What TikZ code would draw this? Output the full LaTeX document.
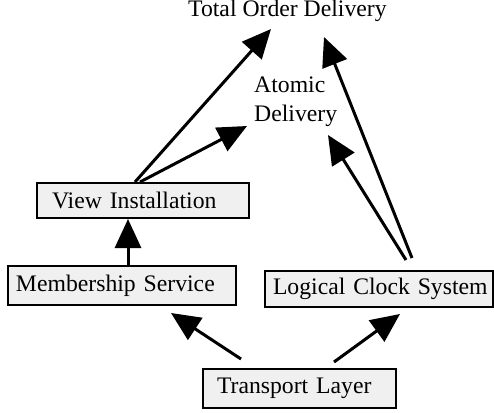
\documentclass[tikz,border=0pt]{standalone}
\usepackage{fontspec}
\setmainfont{Liberation Serif}
\usetikzlibrary{arrows.meta,calc}
\definecolor{boxfill}{RGB}{240,240,240}
\begin{document}
\begin{tikzpicture}[x=1pt,y=-1pt,
  every node/.style={font=\fontsize{23.7}{29}\selectfont},
  layerbox/.style={draw=black,line width=2pt,fill=boxfill,inner ysep=0pt,align=left},
  label/.style={inner sep=0pt},
  flow/.style={line width=3pt,-{Triangle[length=29pt,width=26pt]}}]
\useasboundingbox (0,0) rectangle (494,412);

% labels of the delivery guarantees
\node[label,anchor=base west] (tod) at (188,17) {Total Order Delivery};
\node[label,anchor=base west,align=left] (atom) at (254,121) {Atomic\\Delivery};

% layers of the stack
\node[layerbox,minimum width=212pt,minimum height=35pt,inner xsep=15pt,text width=182pt] (vi) at (143,200.5) {\mbox{View Installation}};
\node[layerbox,minimum width=228pt,minimum height=39pt,inner xsep=8pt,text width=212pt] (mem) at (122,285.5) {\mbox{Membership Service}};
\node[layerbox,minimum width=228pt,minimum height=36pt,inner xsep=8pt,text width=212pt] (lcs) at (379,289) {\mbox{Logical Clock System}};
\node[layerbox,minimum width=193pt,minimum height=39pt,inner xsep=14pt,text width=165pt] (tl) at (299.5,388.5) {\mbox{Transport Layer}};

% arrow ends near the labels
\coordinate (todL) at (271,29);
\coordinate (todR) at (324,37);
\coordinate (atomL) at (247,126);
\coordinate (atomR) at (328,135);

% dependencies
\draw[flow] ($(vi.north)+(-8,0)$) -- (todL);
\draw[flow] ($(vi.north)+(-3,0)$) -- (atomL);
\draw[flow] ($(lcs.north)+(33,-12)$) -- (todR);
\draw[flow] ($(lcs.north)+(27,-10)$) -- (atomR);
\draw[flow] ($(mem.north)+(6,0)$) -- ($(vi.south)+(-15,0)$);
\draw[flow] ($(tl.north)+(-58.5,-9)$) -- ($(mem.south)+(49,7)$);
\draw[flow] ($(tl.north)+(34.5,-6)$) -- ($(lcs.south)+(21,6)$);
\end{tikzpicture}
\end{document}
